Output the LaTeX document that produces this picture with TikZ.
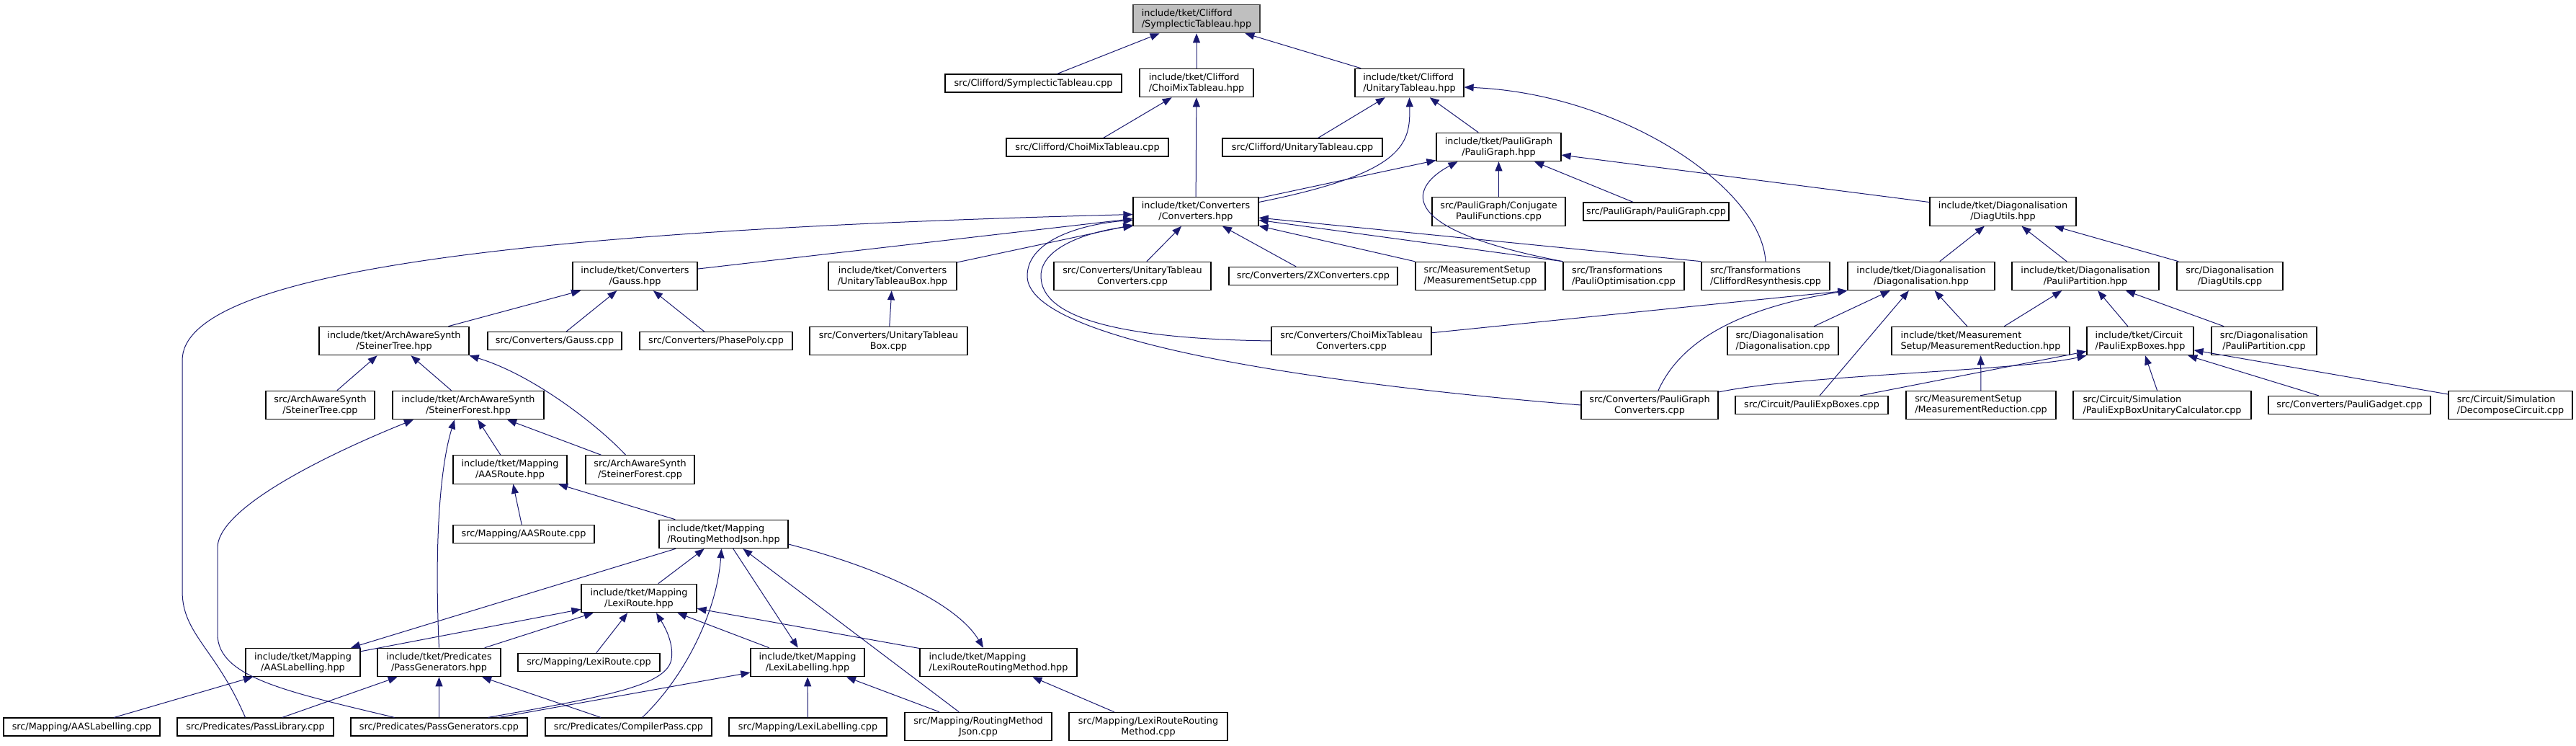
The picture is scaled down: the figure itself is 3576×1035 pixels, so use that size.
\documentclass[tikz,border=0pt]{standalone}
\usepackage{fontspec}
\setmainfont{DejaVu Sans}
\usetikzlibrary{arrows.meta}
\definecolor{edgeblue}{HTML}{191970}
\definecolor{rootfill}{HTML}{BFBFBF}
\definecolor{rootline}{HTML}{404040}
\tikzset{
  filebox/.style={draw=black, line width=1.2pt, fill=white, align=center,
    font=\fontsize{12.8}{15}\selectfont, inner xsep=2pt, inner ysep=6pt,
    minimum height=25pt},
  fileboxl/.style={filebox, align=left},
  rootbox/.style={fileboxl, fill=rootfill, draw=rootline},
  incl/.style={draw=edgeblue, line width=1pt, -{Triangle[length=13pt,width=10pt]}}
}
\begin{document}
\begin{tikzpicture}[x=1pt,y=-1pt]
  \useasboundingbox (0,0) rectangle (3576,1035);

  % row 1
  \node[rootbox, minimum width=176pt] (sympH) at (1661,26) {include/tket/Clifford\\/SymplecticTableau.hpp};

  % row 2
  \node[filebox, minimum width=245pt] (sympC) at (1434.5,115.5) {src/Clifford/SymplecticTableau.cpp};
  \node[fileboxl, minimum width=158pt] (choiH) at (1661,115) {include/tket/Clifford\\/ChoiMixTableau.hpp};
  \node[fileboxl, minimum width=151pt] (unitH) at (1956.5,115) {include/tket/Clifford\\/UnitaryTableau.hpp};

  % row 3
  \node[filebox, minimum width=225pt] (choiC) at (1509.5,204.5) {src/Clifford/ChoiMixTableau.cpp};
  \node[filebox, minimum width=222pt] (unitC) at (1808,204.5) {src/Clifford/UnitaryTableau.cpp};
  \node[filebox, minimum width=173pt] (pgH) at (2080.5,204) {include/tket/PauliGraph\\/PauliGraph.hpp};

  % row 4
  \node[filebox, minimum width=174pt] (convH) at (1660,293.5) {include/tket/Converters\\/Converters.hpp};
  \node[filebox, minimum width=185pt] (conjC) at (2080.5,293.5) {src/PauliGraph/Conjugate\\PauliFunctions.cpp};
  \node[filebox, minimum width=202pt] (pgC) at (2299,293.5) {src/PauliGraph/PauliGraph.cpp};
  \node[filebox, minimum width=203pt] (diagUH) at (2780.5,293.5) {include/tket/Diagonalisation\\/DiagUtils.hpp};

  % row 5
  \node[filebox, minimum width=173pt] (gaussH) at (881.5,383) {include/tket/Converters\\/Gauss.hpp};
  \node[filebox, minimum width=178pt] (utbH) at (1239,383) {include/tket/Converters\\/UnitaryTableauBox.hpp};
  \node[filebox, minimum width=218pt] (utcC) at (1572,383) {src/Converters/UnitaryTableau\\Converters.cpp};
  \node[filebox, minimum width=234pt] (zxC) at (1823,383) {src/Converters/ZXConverters.cpp};
  \node[fileboxl, minimum width=180pt] (msC) at (2055,383) {src/MeasurementSetup\\/MeasurementSetup.cpp};
  \node[fileboxl, minimum width=168pt] (poC) at (2254,383) {src/Transformations\\/PauliOptimisation.cpp};
  \node[fileboxl, minimum width=178pt] (crC) at (2451,383) {src/Transformations\\/CliffordResynthesis.cpp};
  \node[filebox, minimum width=204pt] (diagH) at (2667,383) {include/tket/Diagonalisation\\/Diagonalisation.hpp};
  \node[filebox, minimum width=204pt] (ppH) at (2895,383) {include/tket/Diagonalisation\\/PauliPartition.hpp};
  \node[filebox, minimum width=147pt] (diagUC) at (3095.5,383) {src/Diagonalisation\\/DiagUtils.cpp};

  % row 6
  \node[filebox, minimum width=208pt] (stH) at (547,473) {include/tket/ArchAwareSynth\\/SteinerTree.hpp};
  \node[filebox, minimum width=186pt] (gaussC) at (770,473) {src/Converters/Gauss.cpp};
  \node[filebox, minimum width=212pt] (ppolyC) at (994,473) {src/Converters/PhasePoly.cpp};
  \node[filebox, minimum width=219pt] (utbC) at (1233.5,473) {src/Converters/UnitaryTableau\\Box.cpp};
  \node[filebox, minimum width=222pt] (cmcC) at (1876,473) {src/Converters/ChoiMixTableau\\Converters.cpp};
  \node[fileboxl, minimum width=154pt] (diagC) at (2475,473) {src/Diagonalisation\\/Diagonalisation.cpp};
  \node[fileboxl, minimum width=247pt] (mrH) at (2749.5,473) {include/tket/Measurement\\Setup/MeasurementReduction.hpp};
  \node[fileboxl, minimum width=148pt] (pebH) at (2971,473) {include/tket/Circuit\\/PauliExpBoxes.hpp};
  \node[filebox, minimum width=146pt] (ppC) at (3143,473) {src/Diagonalisation\\/PauliPartition.cpp};

  % row 7
  \node[filebox, minimum width=151pt] (stC) at (444.5,562) {src/ArchAwareSynth\\/SteinerTree.cpp};
  \node[filebox, minimum width=210pt] (sfH) at (650,562) {include/tket/ArchAwareSynth\\/SteinerForest.hpp};
  \node[filebox, minimum width=190pt] (pgcC) at (2290,562) {src/Converters/PauliGraph\\Converters.cpp};
  \node[filebox, minimum width=212pt] (pebC) at (2515,562) {src/Circuit/PauliExpBoxes.cpp};
  \node[fileboxl, minimum width=208pt] (mrC) at (2750,562) {src/MeasurementSetup\\/MeasurementReduction.cpp};
  \node[fileboxl, minimum width=247pt] (pebucC) at (3001.5,562) {src/Circuit/Simulation\\/PauliExpBoxUnitaryCalculator.cpp};
  \node[filebox, minimum width=225pt] (pgadC) at (3261.5,562) {src/Converters/PauliGadget.cpp};
  \node[fileboxl, minimum width=172pt] (decC) at (3485,562) {src/Circuit/Simulation\\/DecomposeCircuit.cpp};

  % row 8
  \node[filebox, minimum width=158pt] (aasrH) at (708,651.5) {include/tket/Mapping\\/AASRoute.hpp};
  \node[filebox, minimum width=151pt] (sfC) at (888.5,651.5) {src/ArchAwareSynth\\/SteinerForest.cpp};

  % row 9
  \node[filebox, minimum width=196pt] (aasrC) at (727,741) {src/Mapping/AASRoute.cpp};
  \node[fileboxl, minimum width=179pt] (rmjH) at (1004.5,741) {include/tket/Mapping\\/RoutingMethodJson.hpp};

  % row 10
  \node[filebox, minimum width=160pt] (lrH) at (887,830) {include/tket/Mapping\\/LexiRoute.hpp};

  % row 11
  \node[filebox, minimum width=159pt] (aaslH) at (420.5,919) {include/tket/Mapping\\/AASLabelling.hpp};
  \node[filebox, minimum width=171pt] (pgenH) at (609.5,919) {include/tket/Predicates\\/PassGenerators.hpp};
  \node[filebox, minimum width=197pt] (lrC) at (817.5,919) {src/Mapping/LexiRoute.cpp};
  \node[filebox, minimum width=158pt] (llH) at (1121,919) {include/tket/Mapping\\/LexiLabelling.hpp};
  \node[fileboxl, minimum width=218pt] (lrrmH) at (1386,919) {include/tket/Mapping\\/LexiRouteRoutingMethod.hpp};

  % row 12
  \node[filebox, minimum width=217pt] (aaslC) at (113.5,1008.5) {src/Mapping/AASLabelling.cpp};
  \node[filebox, minimum width=217pt] (plC) at (354.5,1008.5) {src/Predicates/PassLibrary.cpp};
  \node[filebox, minimum width=245pt] (pgenC) at (609.5,1008.5) {src/Predicates/PassGenerators.cpp};
  \node[filebox, minimum width=231pt] (cpC) at (872.5,1008.5) {src/Predicates/CompilerPass.cpp};
  \node[filebox, minimum width=219pt] (llC) at (1121.5,1008.5) {src/Mapping/LexiLabelling.cpp};
  \node[filebox, minimum width=204pt] (rmjC) at (1358,1008) {src/Mapping/RoutingMethod\\Json.cpp};
  \node[filebox, minimum width=220pt] (lrrmC) at (1594,1008) {src/Mapping/LexiRouteRouting\\Method.cpp};

  % into SymplecticTableau.hpp
  \draw[incl] (sympC) -- (sympH);
  \draw[incl] (choiH) -- (sympH);
  \draw[incl] (unitH) -- (sympH);

  % into ChoiMixTableau.hpp
  \draw[incl] (choiC) -- (choiH);
  \draw[incl] (convH) -- (choiH);

  % into UnitaryTableau.hpp
  \draw[incl] (unitC) -- (unitH);
  \draw[incl] ([yshift=13pt]convH.east) .. controls (1950,240) and (1958,200) .. (unitH.south);
  \draw[incl] (pgH) -- (unitH);
  \draw[incl] (crC.north) .. controls (2445,260) and (2250,130) .. ([yshift=-6pt]unitH.east);

  % into PauliGraph.hpp
  \draw[incl] (convH) -- (pgH);
  \draw[incl] (poC.north west) .. controls (1920,315) and (1965,255) .. ([xshift=-57pt]pgH.south);
  \draw[incl] (conjC) -- (pgH);
  \draw[incl] (pgC) -- (pgH);
  \draw[incl] (diagUH) -- (pgH);

  % into Converters.hpp
  \draw[incl] ([xshift=-14pt]plC.north) .. controls (300,900) and (253,880) .. (253,820)
    -- (253,500) .. controls (253,380) and (700,320) .. ([yshift=-4pt]convH.west);
  \draw[incl] (gaussH) -- (convH);
  \draw[incl] (utbH) -- (convH);
  \draw[incl] (cmcC.west) .. controls (1550,470) and (1445,440) .. (1445,383)
    .. controls (1445,340) and (1520,320) .. (convH.south west);
  \draw[incl] (pgcC.west) .. controls (1800,530) and (1426,470) .. (1426,383)
    .. controls (1426,330) and (1510,310) .. ([yshift=-12pt]convH.west);
  \draw[incl] (utcC) -- (convH);
  \draw[incl] (zxC) -- (convH);
  \draw[incl] (msC.north west) -- (convH);
  \draw[incl] (poC.north west) -- (convH);
  \draw[incl] (crC.north west) -- (convH);

  % into Gauss.hpp and UnitaryTableauBox.hpp
  \draw[incl] (stH) -- (gaussH);
  \draw[incl] (gaussC) -- (gaussH);
  \draw[incl] (ppolyC) -- (gaussH);
  \draw[incl] (utbC) -- (utbH);

  % into DiagUtils.hpp
  \draw[incl] (diagH) -- (diagUH);
  \draw[incl] (ppH) -- (diagUH);
  \draw[incl] (diagUC) -- (diagUH);

  % into Diagonalisation.hpp
  \draw[incl] (cmcC) -- (diagH.south west);
  \draw[incl] ([xshift=12pt]pgcC.north) .. controls (2330,480) and (2400,430) .. (diagH.south west);
  \draw[incl] (diagC) -- (diagH);
  \draw[incl] (pebC) -- (diagH);
  \draw[incl] (mrH) -- (diagH);

  % into PauliPartition.hpp and MeasurementReduction.hpp
  \draw[incl] (mrH) -- (ppH);
  \draw[incl] (pebH) -- (ppH);
  \draw[incl] (ppC) -- (ppH);
  \draw[incl] (mrC) -- (mrH);

  % into PauliExpBoxes.hpp
  \draw[incl] ([yshift=18pt]pgcC.east) .. controls (2500,520) and (2800,515) .. (pebH.south west);
  \draw[incl] (pebC) -- (pebH);
  \draw[incl] (pebucC) -- (pebH);
  \draw[incl] (pgadC) -- (pebH);
  \draw[incl] (decC) -- (pebH);

  % into SteinerTree.hpp
  \draw[incl] (stC) -- (stH);
  \draw[incl] (sfH) -- (stH);
  \draw[incl] ([xshift=-20pt]sfC.north) .. controls (830,590) and (740,520) .. (stH.south east);

  % into SteinerForest.hpp
  \draw[incl] (aasrH) -- (sfH);
  \draw[incl] (sfC) -- (sfH);
  \draw[incl] (pgenH.north) .. controls (603,760) and (610,650) .. ([xshift=-19pt]sfH.south);
  \draw[incl] ([xshift=-62pt]pgenC.north) .. controls (400,960) and (302,940) .. (302,880)
    -- (302,760) .. controls (302,700) and (480,620) .. ([xshift=-76pt]sfH.south);

  % into AASRoute.hpp
  \draw[incl] (aasrC) -- (aasrH);
  \draw[incl] (rmjH) -- (aasrH);

  % into and out of RoutingMethodJson.hpp
  \draw[incl] (lrH) -- (rmjH);
  \draw[incl] ([xshift=19pt]cpC.north) .. controls (950,940) and (995,850) .. ([xshift=-3pt]rmjH.south);
  \draw[incl] (rmjC) -- (rmjH);
  \draw[incl] (rmjH) -- (aaslH);
  \draw[incl] (rmjH) -- (llH);
  \draw[incl] ([yshift=-14pt]rmjH.east) .. controls (1230,790) and (1330,840) .. ([xshift=-21pt]lrrmH.north);

  % into LexiRoute.hpp
  \draw[incl] (aaslH) -- (lrH);
  \draw[incl] (pgenH) -- (lrH);
  \draw[incl] (lrC) -- (lrH);
  \draw[incl] ([xshift=68pt]pgenC.north) .. controls (850,965) and (925,950) .. (932,915)
    .. controls (936,890) and (920,865) .. ([xshift=24pt]lrH.south);
  \draw[incl] (llH) -- (lrH);
  \draw[incl] (lrrmH) -- (lrH);

  % bottom row into the mapping and predicate headers
  \draw[incl] (aaslC) -- (aaslH);
  \draw[incl] (plC) -- (pgenH);
  \draw[incl] (pgenC) -- (pgenH);
  \draw[incl] (cpC) -- (pgenH);
  \draw[incl] ([xshift=83pt]pgenC.north) -- (llH);
  \draw[incl] (llC) -- (llH);
  \draw[incl] (rmjC) -- (llH);
  \draw[incl] (lrrmC) -- (lrrmH);
\end{tikzpicture}
\end{document}
